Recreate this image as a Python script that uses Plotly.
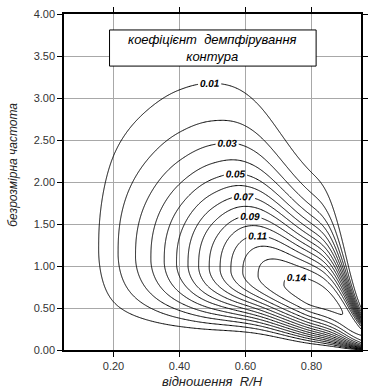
import numpy as np
import plotly.graph_objects as go

# --- values -----------------------------------------------------------------
# ridge of the surface: largest damping coefficient reached for each R/H
ridge_x = [0.05, 0.10, 0.155, 0.20, 0.30, 0.40, 0.50, 0.60, 0.65, 0.70, 0.75,
           0.80, 0.90, 0.95]
ridge_z = [0.000, 0.004, 0.010, 0.0175, 0.037, 0.0625, 0.093, 0.122, 0.132,
           0.1385, 0.1425, 0.1455, 0.1395, 0.132]
# points: (R/H, frequency, level)
pt_x = [0.155, 0.156, 0.17, 0.20, 0.30, 0.354, 0.48, 0.607, 0.70, 0.80, 0.858,
        0.876, 0.90, 0.95, 0.20, 0.245, 0.30, 0.40, 0.65, 0.80,
        0.30, 0.35, 0.40, 0.60, 0.30,
        0.327, 0.40, 0.60, 0.758, 0.44,
        0.35, 0.40, 0.60,
        0.425, 0.60, 0.563,
        0.60,
        0.52, 0.60, 0.66,
        0.64, 0.735,
        0.77, 0.79,
        0.72, 0.89, 0.79]
pt_y = [1.27, 1.55, 1.90, 2.38, 2.77, 2.98, 3.19, 3.02, 2.60, 2.07, 1.79,
        1.55, 1.20, 0.50, 0.57, 0.46, 0.36, 0.27, 0.21, 0.07,
        2.10, 2.48, 2.60, 2.68, 0.50,
        1.90, 2.32, 2.44, 1.93, 0.42,
        1.99, 2.10, 2.24,
        1.79, 2.08, 0.40,
        1.90,
        1.63, 1.73, 0.40,
        1.49, 0.42,
        1.13, 0.42,
        0.88, 0.50, 0.60]
pt_level = [0.01] * 20 + [0.02] * 5 + [0.03] * 5 + [0.04] * 3 + [0.05] * 3 + \
    [0.06] + [0.07] * 3 + [0.09] * 2 + [0.11] * 2 + [0.14] * 3

levels_labeled = [0.01, 0.03, 0.05, 0.07, 0.09, 0.11, 0.14]
levels_plain = [0.02, 0.04, 0.06, 0.08, 0.10, 0.12, 0.13]

x_ticks = [0.2, 0.4, 0.6, 0.8]
y_ticks = [0.0, 0.5, 1.0, 1.5, 2.0, 2.5, 3.0, 3.5, 4.0]
x_range = [0.05, 0.95]
y_range = [0.0, 4.0]

title_lines = ["коефіцієнт  демпфірування", "контура"]
x_title = "відношення  R/H"
y_title = "безрозмірна частота"


# --- interpolation helpers ---------------------------------------------------
def pchip(xk, yk, xq):
    xk = np.asarray(xk, float)
    yk = np.asarray(yk, float)
    h = np.diff(xk)
    d = np.diff(yk) / h
    m = np.zeros_like(yk)
    for i in range(1, len(xk) - 1):
        if d[i - 1] * d[i] > 0:
            w1 = 2 * h[i] + h[i - 1]
            w2 = h[i] + 2 * h[i - 1]
            m[i] = (w1 + w2) / (w1 / d[i - 1] + w2 / d[i])
    m[0] = d[0]
    m[-1] = d[-1]
    xq = np.asarray(xq, float)
    idx = np.clip(np.searchsorted(xk, xq) - 1, 0, len(xk) - 2)
    t = (xq - xk[idx]) / h[idx]
    h00 = 2 * t**3 - 3 * t**2 + 1
    h10 = t**3 - 2 * t**2 + t
    h01 = -2 * t**3 + 3 * t**2
    h11 = t**3 - t**2
    return (h00 * yk[idx] + h10 * h[idx] * m[idx] + h01 * yk[idx + 1]
            + h11 * h[idx] * m[idx + 1])


def nspline(xk, yk, xq):
    xk = np.asarray(xk, float)
    yk = np.asarray(yk, float)
    n = len(xk)
    h = np.diff(xk)
    A = np.zeros((n, n))
    b = np.zeros(n)
    A[0, 0] = A[-1, -1] = 1.0
    for i in range(1, n - 1):
        A[i, i - 1] = h[i - 1]
        A[i, i] = 2 * (h[i - 1] + h[i])
        A[i, i + 1] = h[i]
        b[i] = 6 * ((yk[i + 1] - yk[i]) / h[i] - (yk[i] - yk[i - 1]) / h[i - 1])
    M = np.linalg.solve(A, b)
    xq = np.asarray(xq, float)
    idx = np.clip(np.searchsorted(xk, xq) - 1, 0, n - 2)
    hh = h[idx]
    a = (xk[idx + 1] - xq) / hh
    c = (xq - xk[idx]) / hh
    return (a * yk[idx] + c * yk[idx + 1]
            + ((a**3 - a) * M[idx] + (c**3 - c) * M[idx + 1]) * hh**2 / 6)


# --- surface through the read contour points --------------------------------
knots = np.array([0.05, 0.2, 0.35, 0.5, 0.65, 0.8, 0.9, 0.95])
nk = len(knots)
th0 = np.concatenate([
    np.log([1.30, 1.22, 1.14, 1.04, 0.90, 0.70, 0.45, 0.27]),
    np.log([0.72] * nk),
    np.log([0.60] * 6 + [0.50, 0.38]),
    np.log([1.9, 2.2]),
])


def log_field(th, xq, yq):
    ypk = np.exp(nspline(knots, th[0:nk], xq))
    slo = np.exp(nspline(knots, th[nk:2 * nk], xq))
    shi = np.exp(nspline(knots, th[2 * nk:3 * nk], xq))
    plo, phi = np.exp(th[3 * nk]), np.exp(th[3 * nk + 1])
    zpk = np.maximum(pchip(ridge_x, ridge_z, xq), 1e-9)
    L = np.log(yq / ypk)
    a = np.abs(L)
    logS = np.where(L < 0, -0.5 * (a / slo) ** plo, -0.5 * (a / shi) ** phi)
    return np.log(zpk) + logS


px_ = np.array(pt_x)
py_ = np.array(pt_y)
pl_ = np.log(np.array(pt_level))


def residuals(th):
    r = [log_field(th, px_, py_) - pl_]
    for g in range(3):
        v = th[g * nk:(g + 1) * nk]
        r.append(1.5 * (v[2:] - 2 * v[1:-1] + v[:-2]))
    r.append(0.05 * (th - th0))
    return np.concatenate(r)


th = th0.copy()
lam = 1e-2
cost = np.sum(residuals(th) ** 2)
for _ in range(150):
    r0 = residuals(th)
    J = np.empty((len(r0), len(th)))
    for j in range(len(th)):
        d = np.zeros_like(th)
        d[j] = 1e-6
        J[:, j] = (residuals(th + d) - r0) / 1e-6
    A = J.T @ J
    g = J.T @ r0
    done = False
    while True:
        step = np.linalg.solve(A + lam * (np.diag(np.diag(A)) + np.eye(len(th))), -g)
        step = np.clip(step, -0.3, 0.3)
        tn = th + step
        cn = np.sum(residuals(tn) ** 2)
        if np.isfinite(cn) and cn < cost:
            th, cost = tn, cn
            lam = max(lam / 3, 1e-7)
            break
        lam *= 4
        if lam > 1e6:
            done = True
            break
    if done:
        break

xs = np.linspace(x_range[0], x_range[1], 241)
ys = np.linspace(0.0005, y_range[1], 601)
X, Y = np.meshgrid(xs, ys)
Z = np.exp(log_field(th, X.ravel(), Y.ravel())).reshape(X.shape)

fig = go.Figure()
label_font = dict(family="Liberation Sans", size=10, color="black",
                  style="italic", weight="bold")
for lev in sorted(levels_labeled + levels_plain):
    fig.add_trace(go.Contour(
        x=xs, y=ys, z=Z,
        contours=dict(start=lev, end=lev, size=0.01, coloring="none",
                      showlabels=lev in levels_labeled,
                      labelformat=".2f", labelfont=label_font),
        line=dict(color="black", width=1, smoothing=1),
        showscale=False, hoverinfo="skip",
    ))

axis_common = dict(
    showline=True, linecolor="black", linewidth=1.5, mirror="ticks",
    ticks="outside", ticklen=5, tickcolor="black", tickwidth=1,
    showgrid=True, gridcolor="#a8a8a8", gridwidth=1, zeroline=False,
    tickfont=dict(family="Liberation Sans", size=11, color="#333333"),
    tickformat=".2f",
)
fig.update_layout(
    width=373, height=388,
    margin=dict(l=64, r=5, t=14, b=38),
    paper_bgcolor="white", plot_bgcolor="white",
    showlegend=False,
    xaxis=dict(range=x_range, tickvals=x_ticks, **axis_common),
    yaxis=dict(range=y_range, tickvals=y_ticks, **axis_common),
)

fig.add_shape(type="rect", xref="x", yref="y", x0=0.188, x1=0.814,
              y0=3.38, y1=3.81, line=dict(color="black", width=1),
              fillcolor="white", layer="above")
fig.add_annotation(xref="x", yref="y", x=0.501, y=3.595,
                   text="<i>" + "<br>".join(title_lines) + "</i>",
                   showarrow=False, align="center",
                   font=dict(family="Liberation Sans", size=13, color="black"))
fig.add_annotation(xref="paper", yref="paper", x=0.5, y=-0.094,
                   text="<i>" + x_title + "</i>", showarrow=False,
                   yanchor="middle",
                   font=dict(family="Liberation Sans", size=13, color="#222222"))
fig.add_annotation(xref="paper", yref="paper", x=-0.17, y=0.55,
                   text="<i>" + y_title + "</i>", showarrow=False,
                   textangle=-90, xanchor="center", yanchor="middle",
                   font=dict(family="Liberation Sans", size=12, color="#222222"))

fig.write_html("out.html")
